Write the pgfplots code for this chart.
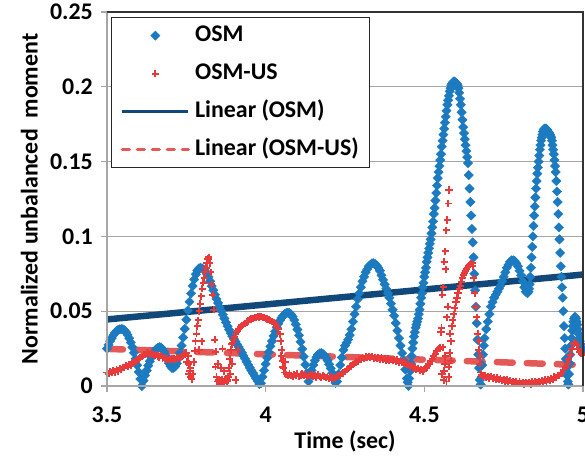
\documentclass[border=0pt]{standalone}
\usepackage{fontspec}
\setmainfont{Carlito}
\usepackage{pgfplots}
\usepackage{pgfplotstable}
\pgfplotsset{compat=1.18}

\definecolor{osmblue}{RGB}{28,122,192}
\definecolor{osmred}{RGB}{232,58,58}
\definecolor{trendblue}{RGB}{17,72,122}
\definecolor{trendred}{RGB}{228,88,88}
\definecolor{gridgray}{RGB}{166,166,166}

% OSM: normalized unbalanced moment vs time
\pgfplotstableread{
t v
3.500 0.0250
3.505 0.0275
3.510 0.0300
3.515 0.0320
3.520 0.0340
3.525 0.0355
3.530 0.0367
3.535 0.0375
3.540 0.0379
3.545 0.0380
3.550 0.0379
3.555 0.0373
3.560 0.0360
3.565 0.0342
3.570 0.0319
3.575 0.0291
3.580 0.0259
3.585 0.0222
3.590 0.0182
3.595 0.0139
3.600 0.0094
3.605 0.0047
3.610 0.0000
3.615 0.0036
3.620 0.0071
3.625 0.0104
3.630 0.0136
3.635 0.0165
3.640 0.0191
3.645 0.0214
3.650 0.0232
3.655 0.0246
3.660 0.0255
3.665 0.0260
3.670 0.0258
3.675 0.0247
3.680 0.0228
3.685 0.0203
3.690 0.0177
3.695 0.0152
3.700 0.0133
3.705 0.0121
3.710 0.0121
3.715 0.0131
3.720 0.0151
3.725 0.0183
3.730 0.0222
3.735 0.0270
3.740 0.0324
3.745 0.0382
3.750 0.0443
3.755 0.0505
3.760 0.0563
3.765 0.0619
3.770 0.0669
3.775 0.0712
3.780 0.0747
3.785 0.0772
3.790 0.0787
3.795 0.0790
3.800 0.0786
3.805 0.0778
3.810 0.0766
3.815 0.0750
3.820 0.0730
3.825 0.0700
3.830 0.0668
3.835 0.0640
3.840 0.0610
3.845 0.0582
3.850 0.0555
3.855 0.0529
3.860 0.0503
3.865 0.0477
3.870 0.0451
3.875 0.0425
3.880 0.0400
3.885 0.0376
3.890 0.0353
3.895 0.0333
3.900 0.0314
3.905 0.0296
3.910 0.0278
3.915 0.0260
3.920 0.0242
3.925 0.0222
3.930 0.0202
3.935 0.0182
3.940 0.0162
3.945 0.0142
3.950 0.0122
3.955 0.0104
3.960 0.0086
3.965 0.0068
3.970 0.0050
3.975 0.0032
3.980 0.0014
3.985 0.0018
3.990 0.0061
3.995 0.0104
4.000 0.0147
4.005 0.0188
4.010 0.0227
4.015 0.0265
4.020 0.0300
4.025 0.0334
4.030 0.0365
4.035 0.0392
4.040 0.0417
4.045 0.0438
4.050 0.0456
4.055 0.0470
4.060 0.0481
4.065 0.0488
4.070 0.0490
4.075 0.0488
4.080 0.0479
4.085 0.0463
4.090 0.0441
4.095 0.0412
4.100 0.0378
4.105 0.0339
4.110 0.0295
4.115 0.0247
4.120 0.0196
4.125 0.0142
4.130 0.0086
4.135 0.0030
4.140 0.0069
4.145 0.0106
4.150 0.0140
4.155 0.0170
4.160 0.0193
4.165 0.0210
4.170 0.0218
4.175 0.0220
4.180 0.0215
4.185 0.0205
4.190 0.0189
4.195 0.0170
4.200 0.0145
4.205 0.0118
4.210 0.0087
4.215 0.0055
4.220 0.0021
4.225 0.0030
4.230 0.0080
4.235 0.0140
4.240 0.0190
4.245 0.0240
4.250 0.0270
4.255 0.0290
4.260 0.0310
4.265 0.0340
4.270 0.0380
4.275 0.0430
4.280 0.0480
4.285 0.0530
4.290 0.0580
4.295 0.0620
4.300 0.0660
4.305 0.0700
4.310 0.0730
4.315 0.0760
4.320 0.0780
4.325 0.0800
4.330 0.0810
4.335 0.0820
4.340 0.0820
4.345 0.0815
4.350 0.0805
4.355 0.0790
4.360 0.0770
4.365 0.0740
4.370 0.0710
4.375 0.0680
4.380 0.0650
4.385 0.0620
4.390 0.0590
4.395 0.0550
4.400 0.0510
4.405 0.0470
4.410 0.0420
4.415 0.0370
4.420 0.0320
4.425 0.0270
4.430 0.0220
4.435 0.0170
4.440 0.0110
4.445 0.0050
4.4475 0.0025
4.4500 0.0000
4.4525 0.0050
4.4550 0.0100
4.4575 0.0150
4.4600 0.0200
4.4625 0.0250
4.4650 0.0290
4.4675 0.0330
4.4700 0.0360
4.4725 0.0390
4.4750 0.0410
4.4775 0.0430
4.4800 0.0450
4.4825 0.0480
4.4850 0.0510
4.4875 0.0550
4.4900 0.0590
4.4925 0.0620
4.4950 0.0660
4.4975 0.0690
4.5000 0.0730
4.5025 0.0760
4.5050 0.0790
4.5075 0.0830
4.5100 0.0860
4.5125 0.0890
4.5150 0.0920
4.5175 0.0950
4.5200 0.0980
4.5225 0.1020
4.5250 0.1060
4.5275 0.1100
4.5300 0.1150
4.5325 0.1190
4.5350 0.1240
4.5375 0.1290
4.5400 0.1340
4.5425 0.1390
4.5450 0.1430
4.5475 0.1470
4.5500 0.1510
4.5525 0.1550
4.5550 0.1600
4.5575 0.1640
4.5600 0.1680
4.5625 0.1720
4.5650 0.1760
4.5675 0.1800
4.5700 0.1840
4.5725 0.1880
4.5750 0.1910
4.5775 0.1940
4.5800 0.1970
4.5825 0.1990
4.5850 0.2010
4.5875 0.2020
4.5900 0.2030
4.5925 0.2035
4.5950 0.2035
4.5975 0.2030
4.6000 0.2025
4.6025 0.2020
4.6050 0.2010
4.6075 0.1990
4.6100 0.1960
4.6125 0.1920
4.6150 0.1880
4.6175 0.1830
4.6200 0.1780
4.6225 0.1730
4.6250 0.1690
4.6275 0.1650
4.6300 0.1610
4.6325 0.1570
4.6350 0.1530
4.6375 0.1490
4.6400 0.1410
4.6425 0.1320
4.6450 0.1230
4.6475 0.1140
4.6500 0.1050
4.6525 0.0960
4.6550 0.0860
4.6575 0.0750
4.6600 0.0640
4.6625 0.0530
4.6650 0.0420
4.6675 0.0310
4.6700 0.0210
4.6725 0.0120
4.6750 0.0040
4.6775 0.0010
4.6800 0.0060
4.6825 0.0140
4.6850 0.0210
4.6875 0.0270
4.6900 0.0320
4.6950 0.0380
4.7000 0.0430
4.7050 0.0480
4.7100 0.0530
4.7150 0.0560
4.7200 0.0590
4.7250 0.0610
4.7300 0.0630
4.7350 0.0650
4.7400 0.0670
4.7450 0.0700
4.7500 0.0730
4.7550 0.0760
4.7600 0.0790
4.7650 0.0810
4.7700 0.0830
4.7750 0.0840
4.7800 0.0840
4.7850 0.0835
4.7900 0.0820
4.7950 0.0800
4.8000 0.0770
4.8050 0.0740
4.8100 0.0700
4.8150 0.0660
4.8200 0.0630
4.8250 0.0620
4.828 0.0630
4.830 0.0650
4.832 0.0680
4.834 0.0730
4.836 0.0790
4.838 0.0860
4.840 0.0930
4.842 0.1000
4.844 0.1070
4.846 0.1140
4.848 0.1200
4.850 0.1260
4.852 0.1320
4.854 0.1370
4.856 0.1420
4.858 0.1460
4.860 0.1500
4.862 0.1540
4.864 0.1580
4.866 0.1610
4.868 0.1640
4.870 0.1660
4.872 0.1680
4.874 0.1700
4.876 0.1710
4.878 0.1720
4.880 0.1720
4.882 0.1720
4.884 0.1720
4.886 0.1715
4.888 0.1710
4.890 0.1700
4.892 0.1695
4.894 0.1690
4.896 0.1680
4.898 0.1670
4.900 0.1660
4.902 0.1640
4.904 0.1610
4.906 0.1580
4.908 0.1550
4.910 0.1510
4.912 0.1470
4.914 0.1430
4.916 0.1370
4.918 0.1300
4.920 0.1230
4.922 0.1150
4.924 0.1060
4.926 0.0980
4.928 0.0890
4.930 0.0800
4.932 0.0730
4.934 0.0660
4.936 0.0590
4.938 0.0500
4.940 0.0400
4.942 0.0320
4.944 0.0250
4.946 0.0180
4.948 0.0120
4.950 0.0070
4.952 0.0030
4.954 0.0010
4.956 0.0080
4.958 0.0150
4.960 0.0210
4.962 0.0270
4.964 0.0320
4.966 0.0370
4.968 0.0400
4.970 0.0430
4.972 0.0450
4.974 0.0460
4.976 0.0460
4.978 0.0450
4.980 0.0430
4.982 0.0410
4.984 0.0380
4.986 0.0350
4.988 0.0320
4.990 0.0300
4.992 0.0280
4.994 0.0260
4.996 0.0250
4.998 0.0240
5.000 0.0240
}\osmdata

% OSM-US
\pgfplotstableread{
t v
3.500 0.0090
3.505 0.0082
3.510 0.0096
3.515 0.0088
3.520 0.0101
3.525 0.0093
3.530 0.0108
3.535 0.0100
3.540 0.0118
3.545 0.0112
3.550 0.0126
3.555 0.0122
3.560 0.0135
3.565 0.0128
3.570 0.0142
3.575 0.0140
3.580 0.0152
3.585 0.0160
3.590 0.0166
3.595 0.0176
3.600 0.0181
3.605 0.0193
3.610 0.0199
3.615 0.0207
3.620 0.0212
3.625 0.0218
3.630 0.0222
3.635 0.0212
3.640 0.0218
3.645 0.0209
3.650 0.0205
3.655 0.0212
3.660 0.0200
3.665 0.0194
3.670 0.0202
3.675 0.0186
3.680 0.0192
3.685 0.0180
3.690 0.0186
3.695 0.0178
3.700 0.0174
3.705 0.0182
3.710 0.0186
3.715 0.0179
3.720 0.0190
3.725 0.0184
3.730 0.0192
3.735 0.0196
3.740 0.0202
3.745 0.0214
3.750 0.0222
3.752 0.0160
3.755 0.0200
3.757 0.0080
3.758 0.0150
3.761 0.0100
3.763 0.0120
3.764 0.0062
3.767 0.0045
3.770 0.0080
3.773 0.0160
3.776 0.0235
3.779 0.0300
3.782 0.0350
3.785 0.0400
3.788 0.0440
3.790 0.0240
3.791 0.0500
3.794 0.0550
3.797 0.0600
3.798 0.0300
3.800 0.0650
3.803 0.0690
3.806 0.0720
3.809 0.0760
3.812 0.0790
3.815 0.0820
3.818 0.0850
3.821 0.0860
3.824 0.0820
3.827 0.0760
3.830 0.0680
3.833 0.0610
3.836 0.0510
3.839 0.0310
3.842 0.0130
3.843 0.0230
3.845 0.0060
3.848 0.0030
3.849 0.0150
3.851 0.0040
3.854 0.0020
3.857 0.0035
3.858 0.0120
3.860 0.0025
3.863 0.0045
3.864 0.0250
3.866 0.0030
3.869 0.0020
3.870 0.0100
3.872 0.0040
3.875 0.0050
3.878 0.0030
3.880 0.0040
3.881 0.0060
3.884 0.0120
3.887 0.0180
3.888 0.0080
3.890 0.0240
3.893 0.0280
3.895 0.0150
3.896 0.0290
3.899 0.0310
3.902 0.0330
3.905 0.0350
3.906 0.0040
3.910 0.0365
3.912 0.0240
3.915 0.0380
3.920 0.0392
3.925 0.0405
3.930 0.0412
3.935 0.0420
3.940 0.0428
3.945 0.0435
3.950 0.0442
3.955 0.0448
3.960 0.0452
3.965 0.0458
3.970 0.0460
3.975 0.0462
3.980 0.0461
3.985 0.0464
3.990 0.0460
3.995 0.0456
4.000 0.0452
4.005 0.0448
4.010 0.0445
4.015 0.0440
4.020 0.0432
4.025 0.0425
4.030 0.0415
4.035 0.0400
4.040 0.0380
4.045 0.0345
4.048 0.0300
4.049 0.0200
4.051 0.0240
4.053 0.0130
4.054 0.0170
4.057 0.0120
4.060 0.0090
4.061 0.0160
4.065 0.0078
4.070 0.0068
4.075 0.0080
4.080 0.0072
4.085 0.0064
4.090 0.0078
4.095 0.0070
4.100 0.0082
4.105 0.0066
4.110 0.0074
4.115 0.0080
4.120 0.0068
4.125 0.0076
4.130 0.0062
4.135 0.0074
4.140 0.0068
4.145 0.0078
4.150 0.0064
4.155 0.0072
4.160 0.0060
4.165 0.0074
4.170 0.0066
4.175 0.0058
4.180 0.0070
4.185 0.0062
4.190 0.0055
4.195 0.0066
4.200 0.0050
4.205 0.0060
4.210 0.0048
4.215 0.0058
4.220 0.0052
4.225 0.0062
4.230 0.0070
4.235 0.0068
4.240 0.0082
4.245 0.0090
4.250 0.0098
4.255 0.0108
4.260 0.0115
4.265 0.0128
4.270 0.0135
4.275 0.0146
4.280 0.0150
4.285 0.0160
4.290 0.0165
4.295 0.0176
4.300 0.0180
4.305 0.0188
4.310 0.0184
4.315 0.0194
4.320 0.0188
4.325 0.0196
4.330 0.0190
4.335 0.0198
4.340 0.0186
4.345 0.0192
4.350 0.0184
4.355 0.0190
4.360 0.0180
4.365 0.0188
4.370 0.0176
4.375 0.0184
4.380 0.0172
4.385 0.0180
4.390 0.0170
4.395 0.0178
4.400 0.0168
4.405 0.0176
4.410 0.0166
4.415 0.0174
4.420 0.0160
4.425 0.0168
4.430 0.0156
4.435 0.0164
4.440 0.0150
4.445 0.0142
4.450 0.0150
4.455 0.0130
4.460 0.0138
4.465 0.0120
4.470 0.0126
4.475 0.0110
4.480 0.0118
4.485 0.0102
4.490 0.0112
4.495 0.0098
4.500 0.0108
4.505 0.0120
4.510 0.0135
4.515 0.0150
4.520 0.0165
4.525 0.0180
4.530 0.0200
4.535 0.0215
4.540 0.0235
4.545 0.0250
4.5500 0.0260
4.5525 0.0360
4.5540 0.0390
4.5555 0.0080
4.5570 0.0610
4.5585 0.0260
4.5600 0.0660
4.5615 0.0040
4.5620 0.0100
4.5630 0.0830
4.5645 0.0150
4.5660 0.0900
4.5665 0.0200
4.5675 0.0780
4.5690 0.1040
4.5700 0.0030
4.5705 0.0460
4.5720 0.1110
4.5735 0.0530
4.5750 0.1220
4.5765 0.0130
4.5770 0.0060
4.5780 0.1310
4.5795 0.0220
4.5810 0.0350
4.5830 0.0170
4.5840 0.0300
4.5870 0.0400
4.5900 0.0440
4.5930 0.0480
4.5960 0.0520
4.6000 0.0560
4.6030 0.0590
4.6060 0.0620
4.6100 0.0650
4.6130 0.0670
4.6160 0.0695
4.6200 0.0720
4.6230 0.0740
4.6260 0.0755
4.6300 0.0770
4.6330 0.0780
4.6360 0.0792
4.6400 0.0805
4.6430 0.0812
4.6460 0.0818
4.6500 0.0820
4.6530 0.0800
4.6560 0.0720
4.6590 0.0620
4.6620 0.0530
4.6650 0.0460
4.6680 0.0350
4.6710 0.0240
4.6730 0.0300
4.6740 0.0150
4.6760 0.0200
4.6770 0.0090
4.680 0.0075
4.685 0.0062
4.690 0.0070
4.695 0.0058
4.700 0.0066
4.705 0.0054
4.710 0.0062
4.715 0.0050
4.720 0.0058
4.725 0.0046
4.730 0.0054
4.735 0.0042
4.740 0.0050
4.745 0.0038
4.750 0.0046
4.755 0.0034
4.760 0.0040
4.765 0.0028
4.770 0.0036
4.775 0.0024
4.780 0.0032
4.785 0.0020
4.790 0.0030
4.795 0.0018
4.800 0.0028
4.805 0.0016
4.810 0.0026
4.815 0.0014
4.820 0.0024
4.825 0.0016
4.830 0.0026
4.835 0.0014
4.840 0.0028
4.845 0.0018
4.850 0.0030
4.855 0.0020
4.860 0.0032
4.865 0.0024
4.870 0.0036
4.875 0.0028
4.880 0.0040
4.885 0.0032
4.890 0.0046
4.895 0.0038
4.900 0.0052
4.905 0.0046
4.910 0.0060
4.915 0.0056
4.920 0.0070
4.925 0.0068
4.930 0.0082
4.935 0.0090
4.940 0.0110
4.945 0.0130
4.950 0.0150
4.955 0.0180
4.960 0.0210
4.965 0.0245
4.970 0.0280
4.975 0.0290
4.980 0.0275
4.985 0.0250
4.990 0.0230
4.995 0.0215
5.000 0.0205
}\osmusdata

\begin{document}
\begin{tikzpicture}
\begin{axis}[
  name=ax,
  scale only axis,
  width=476bp, height=374bp,
  xmin=3.5, xmax=5, ymin=0, ymax=0.25,
  xtick={3.5,4,4.5,5},
  xticklabels={3.5,4,4.5,5},
  ytick={0,0.05,0.1,0.15,0.2,0.25},
  yticklabels={0,0.05,0.1,0.15,0.2,0.25},
  every tick label/.append style={font=\bfseries\fontsize{24}{28}\selectfont},
  yticklabel style={inner sep=0pt, xshift=-8bp},
  xticklabel style={inner sep=0pt, yshift=-15bp},
  axis line style={draw=none},
  tick align=outside,
  xtick pos=bottom, ytick pos=left,
  major tick length=6bp,
  tick style={draw=gridgray, line width=1.3bp},
  ymajorgrids,
  grid style={draw=gridgray, line width=1.3bp},
  clip=false,
  xlabel={Time (sec)},
  ylabel={Normalized unbalanced\ \ moment},
  label style={font=\bfseries\fontsize{24}{28}\selectfont},
  xlabel style={at={(axis description cs:0.5,-0.1658)}, anchor=base, inner sep=0pt},
  ylabel style={at={(axis description cs:-0.145,0.5)}, anchor=south, inner sep=0pt},
  legend image code/.code={\draw[mark repeat=2,mark phase=2,#1] plot coordinates {(0bp,0bp) (33bp,0bp) (66bp,0bp)};},
  legend cell align=left,
  legend style={at={(0.0084,0.9866)}, anchor=north west, draw=black!85, line width=1.2bp,
    fill=white, font=\bfseries\fontsize{24}{28}\selectfont,
    inner xsep=9bp, inner ysep=5bp, row sep=12bp, column sep=3bp,
    nodes={inner sep=2bp, text height=17bp, text depth=5bp}},
]
\addplot[only marks, mark=square*, mark size=3.3bp, draw=osmblue, fill=osmblue,
  mark options={rotate=45, line width=0.4bp, draw=osmblue, fill=osmblue}] table {\osmdata};
\addlegendentry{OSM}
\addplot[only marks, mark=+, mark size=3.6bp, draw=osmred,
  mark options={line width=1.9bp, draw=osmred},
  legend image code/.code={\draw[draw=osmred, line width=1.9bp]
    (29.5bp,0bp) -- (36.5bp,0bp) (33bp,-3.5bp) -- (33bp,3.5bp);}] table {\osmusdata};
\addlegendentry{OSM-US}
\addplot[draw=trendblue, line width=6.5bp, no marks,
  legend image post style={line width=3.5bp}] coordinates {(3.5,0.0445) (5,0.0745)};
\addlegendentry{Linear (OSM)}
\addplot[draw=trendred, line width=6.5bp, no marks, line cap=round, dash pattern=on 16bp off 14bp,
  legend image post style={line width=3.5bp, dash pattern=on 7bp off 8bp}] coordinates {(3.5,0.0248) (5,0.0140)};
\addlegendentry{Linear (OSM-US)}
\end{axis}
\draw[gridgray, line width=2bp] (ax.north west) -- (ax.south west) -- (ax.south east);
\draw[black!80, line width=1.3bp] (ax.north west) -- (ax.north east) -- (ax.south east);
\pgfresetboundingbox
\path[use as bounding box] ([xshift=-107bp,yshift=-73bp]ax.south west) rectangle ([xshift=2bp,yshift=12bp]ax.north east);
\end{tikzpicture}
\end{document}
